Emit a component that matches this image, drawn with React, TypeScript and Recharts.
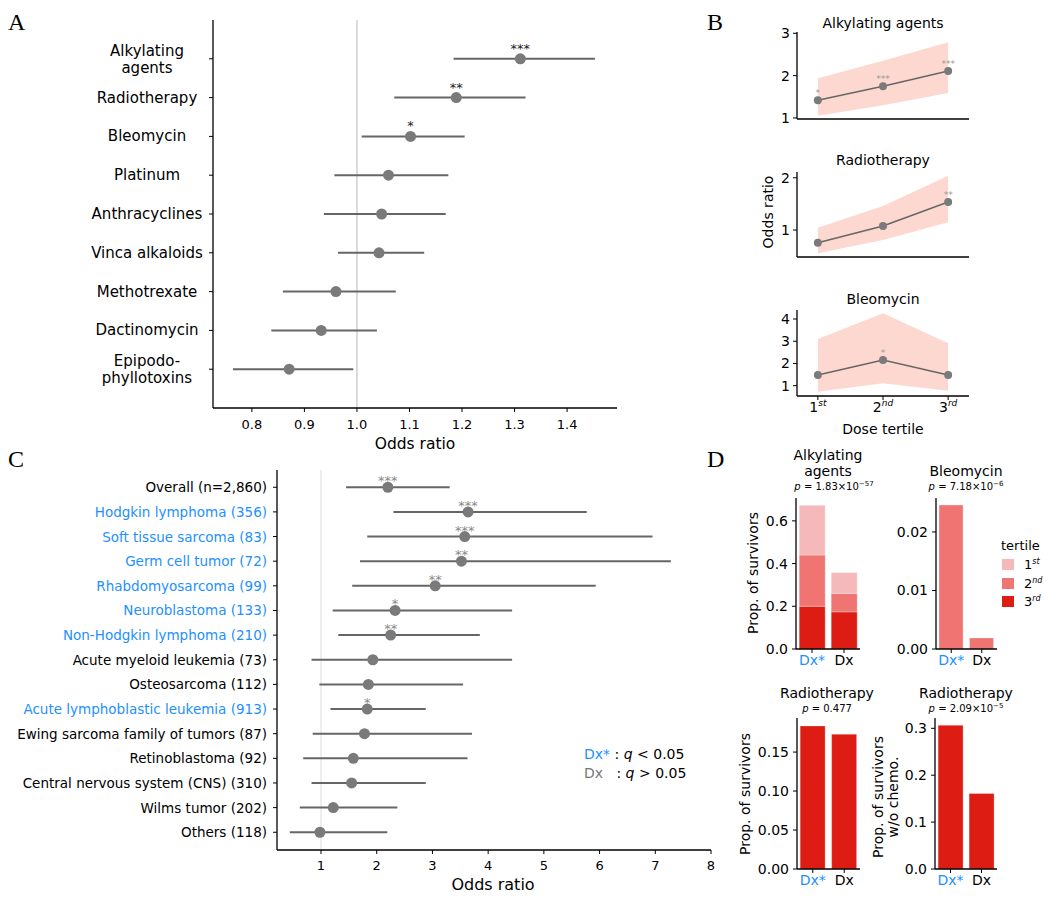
import React from 'react';
import {
  ScatterChart, Scatter, XAxis, YAxis, ErrorBar, ReferenceLine,
  ComposedChart, Area, Line, BarChart, Bar,
} from 'recharts';

const FONT = '"DejaVu Sans", sans-serif';
const SERIF = '"Liberation Serif", "DejaVu Serif", serif';
const LINE_GRAY = '#666666';
const DOT_GRAY = '#7a7a7a';
const BLUE = '#1e90ff';
const BAND = '#fcd8d0';
const T_COLORS = ['#f5b9bc', '#f07471', '#dd1c14'];

// ---- panel A: odds ratio per treatment
const drugLabels = ['Alkylating\nagents', 'Radiotherapy', 'Bleomycin', 'Platinum', 'Anthracyclines',
  'Vinca alkaloids', 'Methotrexate', 'Dactinomycin', 'Epipodo-\nphyllotoxins'];
const drugOR = [1.311, 1.189, 1.102, 1.060, 1.047, 1.042, 0.960, 0.932, 0.871];
const drugLow = [1.184, 1.071, 1.009, 0.957, 0.937, 0.964, 0.859, 0.837, 0.764];
const drugHigh = [1.453, 1.321, 1.205, 1.174, 1.169, 1.128, 1.074, 1.038, 0.993];
const drugStars = ['***', '**', '*', '', '', '', '', '', ''];
const drugTicks = [0.8, 0.9, 1.0, 1.1, 1.2, 1.3, 1.4];

// ---- panel B: dose tertiles
const tertileNum = ['1', '2', '3'];
const tertileSup = ['st', 'nd', 'rd'];
const alkOR = [1.42, 1.75, 2.11];
const alkLow = [1.05, 1.30, 1.59];
const alkHigh = [1.94, 2.35, 2.79];
const alkStars = ['*', '***', '***'];
const radOR = [0.758, 1.076, 1.535];
const radLow = [0.554, 0.81, 1.15];
const radHigh = [1.045, 1.46, 2.04];
const radStars = ['', '', '**'];
const bleoOR = [1.48, 2.16, 1.48];
const bleoLow = [0.73, 1.11, 0.77];
const bleoHigh = [3.10, 4.26, 2.91];
const bleoStars = ['', '*', ''];

// ---- panel C: odds ratio per diagnosis
const dxNames = ['Overall (n=2,860)', 'Hodgkin lymphoma (356)', 'Soft tissue sarcoma (83)', 'Germ cell tumor (72)',
  'Rhabdomyosarcoma (99)', 'Neuroblastoma (133)', 'Non-Hodgkin lymphoma (210)', 'Acute myeloid leukemia (73)',
  'Osteosarcoma (112)', 'Acute lymphoblastic leukemia (913)', 'Ewing sarcoma family of tumors (87)',
  'Retinoblastoma (92)', 'Central nervous system (CNS) (310)', 'Wilms tumor (202)', 'Others (118)'];
const dxOR = [2.20, 3.64, 3.58, 3.52, 3.05, 2.33, 2.25, 1.93, 1.85, 1.83, 1.78, 1.58, 1.55, 1.22, 0.98];
const dxLow = [1.45, 2.30, 1.83, 1.70, 1.56, 1.21, 1.31, 0.83, 0.97, 1.17, 0.85, 0.68, 0.83, 0.62, 0.44];
const dxHigh = [3.31, 5.77, 6.95, 7.28, 5.93, 4.43, 3.85, 4.43, 3.55, 2.88, 3.71, 3.63, 2.88, 2.37, 2.19];
const dxStars = ['***', '***', '***', '**', '**', '*', '**', '', '', '*', '', '', '', '', ''];
const dxSig = [false, true, true, true, true, true, true, false, false, true, false, false, false, false, false];
const dxTicks = [1, 2, 3, 4, 5, 6, 7, 8];

// ---- panel D: proportion of survivors
const dxCats = ['Dx*', 'Dx'];
const alkT1 = [0.233, 0.098];
const alkT2 = [0.240, 0.086];
const alkT3 = [0.200, 0.174];
const bleoT2 = [0.0246, 0.0019];
const radAll = [0.1835, 0.173];
const radNoChemo = [0.3066, 0.161];
const tertileTitle = 'tertile';

const drugData = drugOR.map((v, i) => ({ or: v, row: i, err: [v - drugLow[i], drugHigh[i] - v], stars: drugStars[i] }));
const dxData = dxOR.map((v, i) => ({ or: v, row: i, err: [v - dxLow[i], dxHigh[i] - v], stars: dxStars[i] }));
const mkTert = (or: number[], lo: number[], hi: number[], st: number[] | string[]) =>
  or.map((v, i) => ({ t: i, or: v, band: [lo[i], hi[i]], stars: st[i] }));
const alkData = mkTert(alkOR, alkLow, alkHigh, alkStars);
const radData = mkTert(radOR, radLow, radHigh, radStars);
const bleoData = mkTert(bleoOR, bleoLow, bleoHigh, bleoStars);
const alkBars = dxCats.map((c, i) => ({ cat: c, t1: alkT1[i], t2: alkT2[i], t3: alkT3[i] }));
const bleoBars = dxCats.map((c, i) => ({ cat: c, v: bleoT2[i] }));
const radBars = dxCats.map((c, i) => ({ cat: c, v: radAll[i] }));
const radNCBars = dxCats.map((c, i) => ({ cat: c, v: radNoChemo[i] }));

const axisLine = { stroke: '#000', strokeWidth: 1.3 };
const tickLine = { stroke: '#000', strokeWidth: 1 };

const Txt = ({ x, y, size = 14, color = '#000', children, style }: any) => (
  <div style={{ position: 'absolute', left: x, top: y, transform: 'translate(-50%, -50%)', fontFamily: FONT,
    fontSize: size, color, whiteSpace: 'nowrap', lineHeight: 1.15, textAlign: 'center', ...style }}>{children}</div>
);
const RotTxt = ({ x, y, size = 14, children }: any) => (
  <div style={{ position: 'absolute', left: x, top: y, transform: 'translate(-50%, -50%) rotate(-90deg)',
    fontFamily: FONT, fontSize: size, whiteSpace: 'nowrap', lineHeight: 1.05, textAlign: 'center' }}>{children}</div>
);
const Letter = ({ x, y, children }: any) => (
  <div style={{ position: 'absolute', left: x, top: y, fontFamily: SERIF, fontSize: 24, lineHeight: 1 }}>{children}</div>
);
const PVal = ({ x, y, mant, exp }: any) => (
  <Txt x={x} y={y} size={10}>
    <i>p</i> = {mant}{exp ? <>×10<sup style={{ fontSize: 7, lineHeight: 0 }}>{exp}</sup></> : null}
  </Txt>
);

const drugTick = (props: any) => {
  const { x, y, payload } = props;
  const lines = drugLabels[payload.value].split('\n');
  const cx = x - 60;
  const y0 = lines.length === 1 ? y + 5 : y - 3;
  return (
    <text x={cx} y={y0} textAnchor="middle" fontSize={15} fontFamily={FONT} fill="#000">
      {lines.map((l, i) => <tspan key={i} x={cx} dy={i === 0 ? 0 : 17}>{l}</tspan>)}
    </text>
  );
};

const dxTick = (props: any) => {
  const { x, y, payload } = props;
  return (
    <text x={x} y={y + 5} textAnchor="end" fontSize={13.5} fontFamily={FONT} fill={dxSig[payload.value] ? BLUE : '#000'}>
      {dxNames[payload.value]}
    </text>
  );
};

const tertTick = (props: any) => {
  const { x, y, payload } = props;
  return (
    <text x={x} y={y + 10} textAnchor="middle" fontSize={14} fontFamily={FONT} fill="#000">
      <tspan>{tertileNum[payload.value]}</tspan>
      <tspan dy={-6} fontSize={9} fontStyle="italic">{tertileSup[payload.value]}</tspan>
    </text>
  );
};

const catTick = (props: any) => {
  const { x, y, payload } = props;
  return (
    <text x={x} y={y + 10} textAnchor="middle" fontSize={14} fontFamily={FONT}
      fill={payload.value === 'Dx*' ? BLUE : '#000'}>{payload.value}</text>
  );
};

const forestDot = (starY: number, starSize: number, starColor: string) => (p: any) => (
  <g>
    <circle cx={p.cx} cy={p.cy} r={5.5} fill={DOT_GRAY} />
    {p.payload.stars ? (
      <text x={p.cx} y={p.cy + starY} textAnchor="middle" fontSize={starSize} fontFamily={FONT} fill={starColor}>
        {p.payload.stars}
      </text>
    ) : null}
  </g>
);
const noShape = () => <g />;

const tertDot = (p: any) => (
  <g key={p.index}>
    <circle cx={p.cx} cy={p.cy} r={4} fill={DOT_GRAY} />
    {p.payload.stars ? (
      <text x={p.cx} y={p.cy - 4} textAnchor="middle" fontSize={9} fontFamily={FONT} fill="#999">{p.payload.stars}</text>
    ) : null}
  </g>
);

const tickStyle = { fill: '#000', fontSize: 13, fontFamily: FONT };
const tickStyle14 = { fill: '#000', fontSize: 14, fontFamily: FONT };

const TertChart = ({ data, top, height, domain, ticks, xh, labels }: any) => (
  <div style={{ position: 'absolute', left: 740, top }}>
    <ComposedChart width={240} height={height} data={data} margin={{ top: 7, right: 11, left: 0, bottom: 0 }}>
      <XAxis type="number" dataKey="t" domain={[-0.32, 2.32]} ticks={[0, 1, 2]} allowDataOverflow
        height={xh} tickSize={4} axisLine={axisLine} tickLine={tickLine} interval={0}
        tick={labels ? tertTick : false} />
      <YAxis type="number" domain={domain} ticks={ticks} allowDataOverflow width={57} tickSize={4} tickMargin={3}
        axisLine={axisLine} tickLine={tickLine} tick={tickStyle14} interval={0} />
      <Area type="linear" dataKey="band" stroke="none" fill={BAND} fillOpacity={1} isAnimationActive={false} />
      <Line type="linear" dataKey="or" stroke={LINE_GRAY} strokeWidth={1.5} dot={tertDot} isAnimationActive={false} />
    </ComposedChart>
  </div>
);

const PropChart = ({ left, top, width, data, domain, ticks, fmt, children }: any) => (
  <div style={{ position: 'absolute', left, top }}>
    <BarChart width={width} height={185} data={data} margin={{ top: 8, right: 10, left: 0, bottom: 0 }} barCategoryGap="10%">
      <XAxis dataKey="cat" height={26} tickSize={4} tickMargin={2} axisLine={axisLine} tickLine={tickLine} tick={catTick} interval={0} />
      <YAxis type="number" domain={domain} ticks={ticks} allowDataOverflow width={56} tickSize={4} tickMargin={4}
        axisLine={axisLine} tickLine={tickLine} tick={tickStyle14} tickFormatter={fmt} interval={0} />
      {children}
    </BarChart>
  </div>
);

export default function App() {
  return (
    <div style={{ position: 'absolute', left: 0, top: 0, width: 1050, height: 902, background: '#fff', overflow: 'hidden' }}>
      <Letter x={8} y={10}>A</Letter>
      <Letter x={707} y={10}>B</Letter>
      <Letter x={8} y={447}>C</Letter>
      <Letter x={707} y={447}>D</Letter>

      {/* A */}
      <div style={{ position: 'absolute', left: 0, top: 0 }}>
        <ScatterChart width={640} height={470} margin={{ top: 20, right: 23, left: 0, bottom: 0 }}>
          <XAxis type="number" dataKey="or" domain={[0.726, 1.495]} ticks={drugTicks} allowDataOverflow height={62}
            tickSize={4} tickMargin={8} axisLine={axisLine} tickLine={tickLine} tick={tickStyle} interval={0}
            tickFormatter={(v: number) => v.toFixed(1)} />
          <YAxis type="number" dataKey="row" domain={[-1, 9]} reversed ticks={[0, 1, 2, 3, 4, 5, 6, 7, 8]} allowDataOverflow
            width={213} tickSize={4} axisLine={axisLine} tickLine={tickLine} tick={drugTick} interval={0} />
          <ReferenceLine x={1} stroke="#d0d0d0" strokeWidth={1.5} />
          <Scatter data={drugData} shape={noShape} isAnimationActive={false}>
            <ErrorBar dataKey="err" direction="x" width={0} stroke={LINE_GRAY} strokeWidth={2} isAnimationActive={false} />
          </Scatter>
          <Scatter data={drugData} shape={forestDot(-6, 13, '#222')} isAnimationActive={false} />
        </ScatterChart>
      </div>
      <Txt x={415} y={445} size={15.5}>Odds ratio</Txt>

      {/* B */}
      <Txt x={883} y={23}>Alkylating agents</Txt>
      <TertChart data={alkData} top={25} height={100} domain={[0.975, 3.03]} ticks={[1, 2, 3]} xh={6} labels={false} />
      <Txt x={883} y={160}>Radiotherapy</Txt>
      <TertChart data={radData} top={165} height={100} domain={[0.484, 2.11]} ticks={[1, 2]} xh={8} labels={false} />
      <Txt x={883} y={299}>Bleomycin</Txt>
      <TertChart data={bleoData} top={303} height={135} domain={[0.536, 4.405]} ticks={[1, 2, 3, 4]} xh={42} labels />
      <Txt x={883} y={429}>Dose tertile</Txt>
      <RotTxt x={768} y={212}>Odds ratio</RotTxt>

      {/* C */}
      <div style={{ position: 'absolute', left: 0, top: 460 }}>
        <ScatterChart width={720} height={440} margin={{ top: 10, right: 9, left: 0, bottom: 0 }}>
          <XAxis type="number" dataKey="or" domain={[0.21, 8]} ticks={dxTicks} allowDataOverflow height={50}
            tickSize={4} tickMargin={7} axisLine={axisLine} tickLine={tickLine} tick={tickStyle} interval={0} />
          <YAxis type="number" dataKey="row" domain={[-0.7, 14.72]} reversed ticks={dxNames.map((_, i) => i)} allowDataOverflow
            width={277} tickSize={4} tickMargin={6} axisLine={axisLine} tickLine={tickLine} tick={dxTick} interval={0} />
          <ReferenceLine x={1} stroke="#dddddd" strokeWidth={1} />
          <Scatter data={dxData} shape={noShape} isAnimationActive={false}>
            <ErrorBar dataKey="err" direction="x" width={0} stroke={LINE_GRAY} strokeWidth={2} isAnimationActive={false} />
          </Scatter>
          <Scatter data={dxData} shape={forestDot(-2, 13, '#888')} isAnimationActive={false} />
        </ScatterChart>
      </div>
      <Txt x={493} y={885} size={16}>Odds ratio</Txt>
      <div style={{ position: 'absolute', left: 584, top: 745, fontFamily: FONT, fontSize: 14, lineHeight: '19px' }}>
        <div><span style={{ color: BLUE }}>Dx*</span> : <i>q</i> &lt; 0.05</div>
        <div><span style={{ color: '#777' }}>Dx</span>&nbsp;&nbsp; : <i>q</i> &gt; 0.05</div>
      </div>

      {/* D */}
      <Txt x={828} y={463}>Alkylating<br />agents</Txt>
      <PVal x={834} y={487} mant="1.83" exp="−57" />
      <PropChart left={740} top={490} width={130} data={alkBars} domain={[0, 0.707]} ticks={[0, 0.2, 0.4, 0.6]}
        fmt={(v: number) => v.toFixed(1)}>
        <Bar dataKey="t3" stackId="s" fill={T_COLORS[2]} stroke="#fff" strokeOpacity={0.3} isAnimationActive={false} />
        <Bar dataKey="t2" stackId="s" fill={T_COLORS[1]} stroke="#fff" strokeOpacity={0.3} isAnimationActive={false} />
        <Bar dataKey="t1" stackId="s" fill={T_COLORS[0]} stroke="#fff" strokeOpacity={0.3} isAnimationActive={false} />
      </PropChart>
      <RotTxt x={753} y={573}>Prop. of survivors</RotTxt>

      <Txt x={966} y={471}>Bleomycin</Txt>
      <PVal x={966} y={487} mant="7.18" exp="−6" />
      <PropChart left={880} top={490} width={127} data={bleoBars} domain={[0, 0.0258]} ticks={[0, 0.01, 0.02]}
        fmt={(v: number) => v.toFixed(2)}>
        <Bar dataKey="v" fill={T_COLORS[1]} stroke="#fff" strokeOpacity={0.3} isAnimationActive={false} />
      </PropChart>

      <div style={{ position: 'absolute', left: 1000, top: 538, fontFamily: FONT, fontSize: 13 }}>
        <div style={{ position: 'absolute', left: 1, top: 0, whiteSpace: 'nowrap' }}>{tertileTitle}</div>
        {tertileNum.map((n, i) => (
          <div key={n} style={{ position: 'absolute', left: 2, top: 19 + i * 18.5, display: 'flex', alignItems: 'center', whiteSpace: 'nowrap' }}>
            <div style={{ width: 12, height: 11, background: T_COLORS[i] }} />
            <span style={{ marginLeft: 10 }}>{n}<sup style={{ fontSize: 8, fontStyle: 'italic', lineHeight: 0 }}>{tertileSup[i]}</sup></span>
          </div>
        ))}
      </div>

      <Txt x={827} y={693}>Radiotherapy</Txt>
      <PVal x={827} y={709} mant="0.477" />
      <PropChart left={741} top={710} width={129} data={radBars} domain={[0, 0.1937]} ticks={[0, 0.05, 0.1, 0.15]}
        fmt={(v: number) => v.toFixed(2)}>
        <Bar dataKey="v" fill={T_COLORS[2]} stroke="#fff" strokeOpacity={0.3} isAnimationActive={false} />
      </PropChart>
      <RotTxt x={745} y={794}>Prop. of survivors</RotTxt>

      <Txt x={966} y={693}>Radiotherapy</Txt>
      <PVal x={966} y={709} mant="2.09" exp="−5" />
      <PropChart left={879} top={710} width={128} data={radNCBars} domain={[0, 0.322]} ticks={[0, 0.1, 0.2, 0.3]}
        fmt={(v: number) => v.toFixed(1)}>
        <Bar dataKey="v" fill={T_COLORS[2]} stroke="#fff" strokeOpacity={0.3} isAnimationActive={false} />
      </PropChart>
      <RotTxt x={886} y={797}>Prop. of survivors<br />w/o chemo.</RotTxt>
    </div>
  );
}
